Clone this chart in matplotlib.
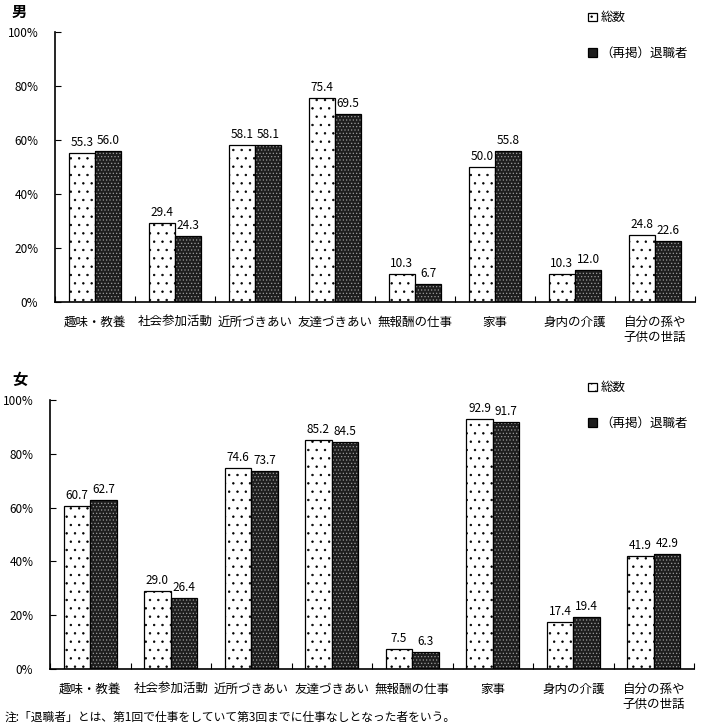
import matplotlib
matplotlib.use("Agg")
import matplotlib.pyplot as plt
from matplotlib.patches import Patch
import numpy as np

plt.rcParams['font.family'] = ['Noto Sans CJK JP', 'DejaVu Sans']
plt.rcParams['hatch.linewidth'] = 0.5

categories = ["趣味・教養", "社会参加活動", "近所づきあい", "友達づきあい",
              "無報酬の仕事", "家事", "身内の介護", "自分の孫や\n子供の世話"]
series_names = ["総数", "（再掲）退職者"]
men_total = [55.3, 29.4, 58.1, 75.4, 10.3, 50.0, 10.3, 24.8]
men_retired = [56.0, 24.3, 58.1, 69.5, 6.7, 55.8, 12.0, 22.6]
women_total = [60.7, 29.0, 74.6, 85.2, 7.5, 92.9, 17.4, 41.9]
women_retired = [62.7, 26.4, 73.7, 84.5, 6.3, 91.7, 19.4, 42.9]
yticks = [0, 20, 40, 60, 80, 100]
ytick_labels = ["0%", "20%", "40%", "60%", "80%", "100%"]
note = "注:「退職者」とは、第1回で仕事をしていて第3回までに仕事なしとなった者をいう。"

W, H = 706, 727
fig = plt.figure(figsize=(W / 100, H / 100), dpi=100)

TOTAL_STYLE = dict(facecolor='white', edgecolor='black', hatch='..')
RET_STYLE = dict(facecolor='#1e1e1e', edgecolor='#9a9a9a', hatch='.....')


def panel(rect, total, retired, title, title_y, leg_y):
    l, t, r, b = rect
    ax = fig.add_axes([l / W, 1 - b / H, (r - l) / W, (b - t) / H])
    x = np.arange(len(categories))
    bw = 0.33
    ax.bar(x - bw / 2, total, bw, linewidth=0.9, **TOTAL_STYLE)
    ax.bar(x + bw / 2, retired, bw, linewidth=0, **RET_STYLE)
    ax.bar(x + bw / 2, retired, bw, fill=False, edgecolor='black', linewidth=0.9)
    for xi, v in zip(x - bw / 2, total):
        ax.text(xi, v + 1.5, f"{v:.1f}", ha='center', va='bottom', fontsize=8.5)
    for xi, v in zip(x + bw / 2, retired):
        ax.text(xi, v + 1.5, f"{v:.1f}", ha='center', va='bottom', fontsize=8.5)
    ax.set_xlim(-0.5, len(categories) - 0.5)
    ax.set_ylim(0, 100)
    ax.set_yticks(yticks)
    ax.set_yticklabels(ytick_labels, fontsize=8.5)
    ax.set_xticks(np.arange(len(categories) + 1) - 0.5)
    ax.set_xticklabels([])
    ax.set_xticks(x, minor=True)
    ax.set_xticklabels(categories, minor=True, fontsize=9, linespacing=1.2,
                       va='top')
    ax.tick_params(axis='x', which='minor', length=0, pad=10)
    ax.tick_params(axis='x', which='major', direction='in', length=4)
    ax.tick_params(axis='y', direction='in', length=4, pad=12)
    for s in ['top', 'right']:
        ax.spines[s].set_visible(False)
    for s in ['left', 'bottom']:
        ax.spines[s].set_linewidth(1.2)
    fig.text(12 / W, 1 - title_y / H, title, fontsize=11, fontweight='bold',
             va='center', ha='left')
    handles = [Patch(linewidth=0.9, **TOTAL_STYLE),
               Patch(linewidth=0.9, facecolor='#1e1e1e', edgecolor='black')]
    fig.legend(handles, series_names, loc='upper left',
               bbox_to_anchor=(582 / W, 1 - leg_y / H), frameon=False,
               fontsize=9, handlelength=0.7, handleheight=0.7,
               handletextpad=0.3, labelspacing=1.8, borderpad=0)
    return ax


panel((55, 32, 695, 302), men_total, men_retired, "男", 12, 5)
panel((50, 400, 694, 669), women_total, women_retired, "女", 380, 375)
fig.text(5 / W, 1 - 717 / H, note, fontsize=8.5, va='center', ha='left')

fig.savefig("out.png", dpi=100)
